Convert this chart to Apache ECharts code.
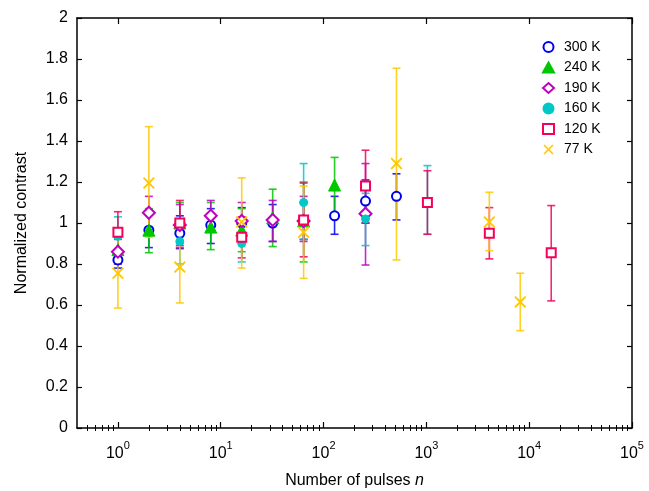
<!DOCTYPE html>
<html>
<head>
<meta charset="utf-8">
<script src="https://cdn.jsdelivr.net/npm/echarts@6/dist/echarts.min.js"></script>
<style>
  html, body { margin: 0; padding: 0; background: #fff; }
  #main { width: 649px; height: 491px; }
</style>
</head>
<body>
<div id="main"></div>
<script>
// values
const pulses300 = [1, 2, 4, 8, 16, 32, 64, 128, 256, 512];
const val300 = [0.82, 0.965, 0.95, 0.99, 1.0, 1.0, 1.01, 1.035, 1.107, 1.13];
const lo300 = [0.78, 0.88, 0.875, 0.9, 0.92, 0.91, 0.92, 0.945, 1.0, 1.015];
const hi300 = [0.86, 1.05, 1.035, 1.07, 1.075, 1.09, 1.1, 1.13, 1.21, 1.24];

const pulses240 = [1, 2, 4, 8, 16, 32, 64, 128];
const val240 = [0.87, 0.965, 1.0, 0.98, 0.965, 1.025, 1.01, 1.185];
const lo240 = [0.8, 0.855, 0.9, 0.87, 0.86, 0.885, 0.81, 1.05];
const hi240 = [0.94, 1.07, 1.1, 1.1, 1.07, 1.165, 1.2, 1.32];

const pulses190 = [1, 2, 4, 8, 16, 32, 64, 256];
const val190 = [0.86, 1.05, 0.99, 1.035, 1.01, 1.015, 1.01, 1.045];
const lo190 = [0.8, 0.97, 0.89, 0.96, 0.92, 0.91, 0.91, 0.795];
const hi190 = [0.92, 1.13, 1.09, 1.11, 1.1, 1.11, 1.13, 1.29];

const pulses160 = [1, 4, 16, 64, 256, 1024];
const val160 = [0.935, 0.91, 0.9, 1.1, 1.02, 1.1];
const lo160 = [0.84, 0.8, 0.81, 0.92, 0.89, 0.945];
const hi160 = [1.03, 1.02, 0.99, 1.29, 1.145, 1.28];

const pulses120 = [1, 4, 16, 64, 256, 1024, 4096, 16384];
const val120 = [0.955, 1.0, 0.93, 1.015, 1.18, 1.1, 0.95, 0.855];
const lo120 = [0.86, 0.88, 0.83, 0.835, 1.0, 0.945, 0.825, 0.62];
const hi120 = [1.055, 1.11, 1.03, 1.195, 1.355, 1.255, 1.075, 1.085];

const pulses77 = [1, 2, 4, 16, 64, 512, 4096, 8192];
const val77 = [0.755, 1.195, 0.785, 1.005, 0.955, 1.29, 1.005, 0.615];
const lo77 = [0.585, 0.93, 0.61, 0.78, 0.73, 0.82, 0.865, 0.475];
const hi77 = [0.93, 1.47, 0.96, 1.22, 1.18, 1.755, 1.15, 0.755];

const decades = [0, 1, 2, 3, 4, 5];
const yTicks = [0, 0.2, 0.4, 0.6, 0.8, 1, 1.2, 1.4, 1.6, 1.8, 2];

const crossPath = 'path://M0,1.1L1.1,0L5,3.9L8.9,0L10,1.1L6.1,5L10,8.9L8.9,10L5,6.1L1.1,10L0,8.9L3.9,5Z';

const groups = [
  { name: '300 K', n: pulses300, v: val300, lo: lo300, hi: hi300, color: '#0000f0', symbol: 'emptyCircle', size: 9, bw: 2 },
  { name: '240 K', n: pulses240, v: val240, lo: lo240, hi: hi240, color: '#00c800', symbol: 'triangle', size: 12, bw: 1 },
  { name: '190 K', n: pulses190, v: val190, lo: lo190, hi: hi190, color: '#c000c0', symbol: 'emptyDiamond', size: 12, bw: 2 },
  { name: '160 K', n: pulses160, v: val160, lo: lo160, hi: hi160, color: '#00c8c8', symbol: 'circle', size: 8, bw: 1 },
  { name: '120 K', n: pulses120, v: val120, lo: lo120, hi: hi120, color: '#f5005a', symbol: 'emptyRect', size: 9, bw: 2 },
  { name: '77 K', n: pulses77, v: val77, lo: lo77, hi: hi77, color: '#ffc800', symbol: crossPath, size: 12, bw: 0 }
];

const xMin = Math.log10(0.4);
const xMax = 5;

// minor ticks of a log axis
const minorTicks = [];
for (let d = -1; d < 5; d++) {
  for (let k = 2; k <= 9; k++) {
    const t = d + Math.log10(k);
    if (t > xMin) minorTicks.push(t);
  }
}

function errorBar(color) {
  return function (params, api) {
    const top = api.coord([api.value(0), api.value(2)]);
    const bot = api.coord([api.value(0), api.value(1)]);
    const w = 4;
    const style = { stroke: color, lineWidth: 1.6, opacity: 0.85 };
    return {
      type: 'group',
      children: [
        { type: 'line', shape: { x1: top[0], y1: top[1], x2: bot[0], y2: bot[1] }, style: style },
        { type: 'line', shape: { x1: top[0] - w, y1: top[1], x2: top[0] + w, y2: top[1] }, style: style },
        { type: 'line', shape: { x1: bot[0] - w, y1: bot[1], x2: bot[0] + w, y2: bot[1] }, style: style }
      ]
    };
  };
}

const series = [];
groups.forEach(g => {
  series.push({
    name: g.name + ' err',
    type: 'custom',
    xAxisIndex: 0,
    yAxisIndex: 0,
    renderItem: errorBar(g.color),
    data: g.n.map((n, i) => [Math.log10(n), g.lo[i], g.hi[i]]),
    encode: { x: 0, y: [1, 2] },
    z: 2
  });
});
groups.forEach(g => {
  series.push({
    name: g.name,
    type: 'scatter',
    xAxisIndex: 0,
    yAxisIndex: 0,
    symbol: g.symbol,
    symbolSize: g.size,
    itemStyle: { color: g.color, borderColor: g.color, borderWidth: g.bw, opacity: 1 },
    data: g.n.map((n, i) => [Math.log10(n), g.v[i]]),
    z: 3
  });
});

const font = 'Liberation Sans, Arial, Helvetica, sans-serif';
const axisLine = { show: true, onZero: false, lineStyle: { color: '#000', width: 1.5 } };

const myChart = echarts.init(document.getElementById('main'));
myChart.setOption({
  animation: false,
  textStyle: { fontFamily: font },
  grid: { left: 77, right: 17, top: 18, bottom: 63, outerBoundsMode: 'none' },
  legend: {
    orient: 'vertical',
    left: 537,
    top: 35,
    itemWidth: 11,
    itemHeight: 10,
    itemGap: 6.5,
    data: groups.map(g => g.name),
    textStyle: { fontSize: 14, color: '#000', fontFamily: font, padding: [0, 0, 0, 5] }
  },
  xAxis: [
    {
      type: 'value', position: 'bottom', min: xMin, max: xMax,
      name: 'Number of pulses {i|n}',
      nameLocation: 'middle', nameGap: 45,
      nameTextStyle: { fontSize: 16, color: '#000', rich: { i: { fontStyle: 'italic', fontSize: 16, color: '#000' } } },
      axisLine: axisLine,
      splitLine: { show: false },
      axisTick: { show: true, inside: true, length: 6, customValues: decades, lineStyle: { color: '#000', width: 1.2 } },
      axisLabel: {
        customValues: decades, margin: 12, color: '#000',
        formatter: v => '{b|10}{s|' + Math.round(v) + '}',
        rich: {
          b: { fontSize: 16, color: '#000', verticalAlign: 'bottom', lineHeight: 22 },
          s: { fontSize: 11, color: '#000', verticalAlign: 'top', lineHeight: 22 }
        }
      }
    },
    {
      type: 'value', position: 'bottom', min: xMin, max: xMax,
      axisLine: { show: false }, splitLine: { show: false }, axisLabel: { show: false },
      axisTick: { show: true, inside: true, length: 3, customValues: minorTicks, lineStyle: { color: '#000', width: 1 } }
    },
    {
      type: 'value', position: 'top', min: xMin, max: xMax,
      axisLine: axisLine, splitLine: { show: false }, axisLabel: { show: false },
      axisTick: { show: true, inside: true, length: 6, customValues: decades, lineStyle: { color: '#000', width: 1.2 } }
    },
    {
      type: 'value', position: 'top', min: xMin, max: xMax,
      axisLine: { show: false }, splitLine: { show: false }, axisLabel: { show: false },
      axisTick: { show: true, inside: true, length: 3, customValues: minorTicks, lineStyle: { color: '#000', width: 1 } }
    }
  ],
  yAxis: [
    {
      type: 'value', position: 'left', min: 0, max: 2, interval: 0.2,
      name: 'Normalized contrast', nameLocation: 'middle', nameGap: 47,
      nameTextStyle: { fontSize: 16, color: '#000' },
      axisLine: axisLine, splitLine: { show: false },
      axisTick: { show: true, inside: true, length: 5, lineStyle: { color: '#000', width: 1.2 } },
      axisLabel: { fontSize: 16, color: '#000', margin: 9, customValues: yTicks }
    },
    {
      type: 'value', position: 'right', min: 0, max: 2, interval: 0.2,
      axisLine: axisLine, splitLine: { show: false }, axisLabel: { show: false },
      axisTick: { show: true, inside: true, length: 5, lineStyle: { color: '#000', width: 1.2 } }
    }
  ],
  series: series
});
</script>
</body>
</html>
